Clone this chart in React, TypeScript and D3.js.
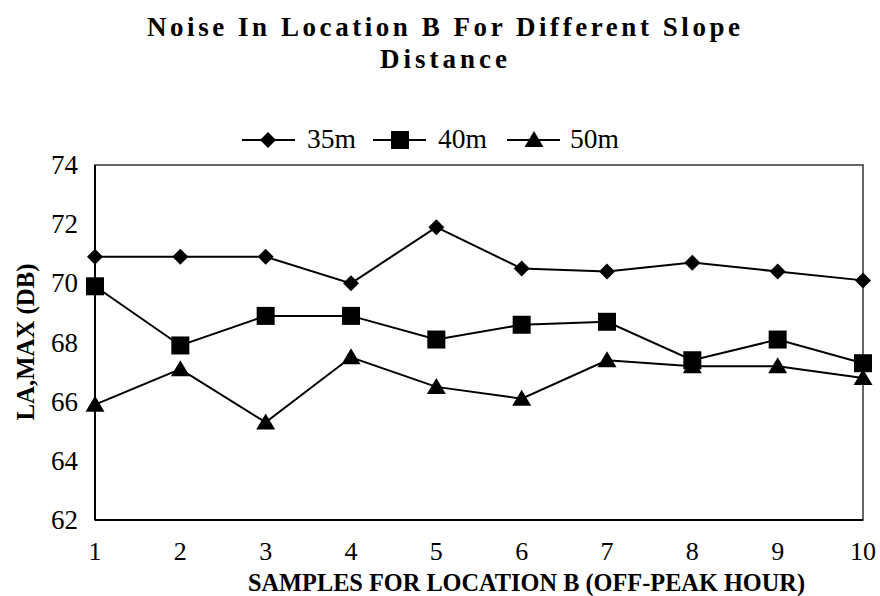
import React from "react";
import * as d3 from "d3";

const samples = [1, 2, 3, 4, 5, 6, 7, 8, 9, 10];
const s35 = [70.9, 70.9, 70.9, 70.0, 71.9, 70.5, 70.4, 70.7, 70.4, 70.1];
const s40 = [69.9, 67.9, 68.9, 68.9, 68.1, 68.6, 68.7, 67.4, 68.1, 67.3];
const s50 = [65.9, 67.1, 65.3, 67.5, 66.5, 66.1, 67.4, 67.2, 67.2, 66.8];
const seriesNames = ["35m", "40m", "50m"];
const yTicks = [62, 64, 66, 68, 70, 72, 74];
const titleLines = ["Noise In Location B For Different Slope", "Distance"];
const xLabel = "SAMPLES FOR LOCATION B (OFF-PEAK HOUR)";
const yLabel = "LA,MAX (DB)";

const W = 880, H = 596;
const left = 95, right = 863, top = 165, bottom = 520;
const serif = "'Liberation Serif', 'Times New Roman', 'DejaVu Serif', serif";

function Marker({ kind, x, y }: { kind: string; x: number; y: number }) {
  if (kind === "diamond") {
    const r = 8;
    return <path d={`M${x},${y - r}L${x + r},${y}L${x},${y + r}L${x - r},${y}Z`} fill="#000" />;
  }
  if (kind === "square") {
    const s = 9;
    return <rect x={x - s} y={y - s} width={2 * s} height={2 * s} fill="#000" />;
  }
  const w = 9.5, h = 8;
  return <path d={`M${x},${y - h - 1}L${x + w},${y + h - 1}L${x - w},${y + h - 1}Z`} fill="#000" />;
}

export default function App() {
  const x = d3.scaleLinear().domain([1, 10]).range([left, right]);
  const y = d3.scaleLinear().domain([62, 74]).range([bottom, top]);
  const series = [s35, s40, s50];
  const kinds = ["diamond", "square", "triangle"];
  const line = d3
    .line<number>()
    .x((_, i) => x(samples[i]))
    .y((d) => y(d));

  const legendItems = [
    { lx: 242, cx: 268, tx: 307 },
    { lx: 373, cx: 400, tx: 438 },
    { lx: 507, cx: 534, tx: 570 },
  ];

  return (
    <svg width={W} height={H} style={{ position: "absolute", left: 0, top: 0, background: "#fff" }}>
      <rect width={W} height={H} fill="#fff" />
      <text x={147} y={36} fontFamily={serif} fontWeight="bold" fontSize={27} textLength={593} lengthAdjust="spacing" fill="#000">
        {titleLines[0]}
      </text>
      <text x={380} y={68} fontFamily={serif} fontWeight="bold" fontSize={27} textLength={127} lengthAdjust="spacing" fill="#000">
        {titleLines[1]}
      </text>

      {legendItems.map((it, i) => (
        <g key={seriesNames[i]}>
          <line x1={it.lx} x2={it.lx + 53} y1={140} y2={140} stroke="#000" strokeWidth={2} />
          <Marker kind={kinds[i]} x={it.cx} y={140} />
          <text x={it.tx} y={148} fontFamily={serif} fontSize={27} textLength={49} lengthAdjust="spacingAndGlyphs" fill="#000">
            {seriesNames[i]}
          </text>
        </g>
      ))}

      <rect x={left} y={top} width={right - left} height={bottom - top} fill="none" stroke="#333" strokeWidth={1.5} />
      <line x1={left} x2={left} y1={top} y2={bottom} stroke="#000" strokeWidth={2} />
      <line x1={left} x2={right} y1={bottom} y2={bottom} stroke="#000" strokeWidth={2} />

      {yTicks.map((t) => (
        <text key={t} x={78} y={y(t) + 9} textAnchor="end" fontFamily={serif} fontSize={27} fill="#000">
          {t}
        </text>
      ))}
      {samples.map((s) => (
        <text key={s} x={x(s)} y={560} textAnchor="middle" fontFamily={serif} fontSize={26} fill="#000">
          {s}
        </text>
      ))}

      {series.map((vals, si) => (
        <g key={seriesNames[si]}>
          <path d={line(vals) || ""} fill="none" stroke="#000" strokeWidth={2} />
          {vals.map((v, i) => (
            <Marker key={i} kind={kinds[si]} x={x(samples[i])} y={y(v)} />
          ))}
        </g>
      ))}

      <text x={248} y={591} fontFamily={serif} fontWeight="bold" fontSize={25} textLength={557} lengthAdjust="spacingAndGlyphs" fill="#000">
        {xLabel}
      </text>
      <text
        transform={`translate(34,${342}) rotate(-90)`}
        textAnchor="middle"
        fontFamily={serif}
        fontWeight="bold"
        fontSize={26}
        textLength={157}
        lengthAdjust="spacingAndGlyphs"
        fill="#000"
      >
        {yLabel}
      </text>
    </svg>
  );
}
